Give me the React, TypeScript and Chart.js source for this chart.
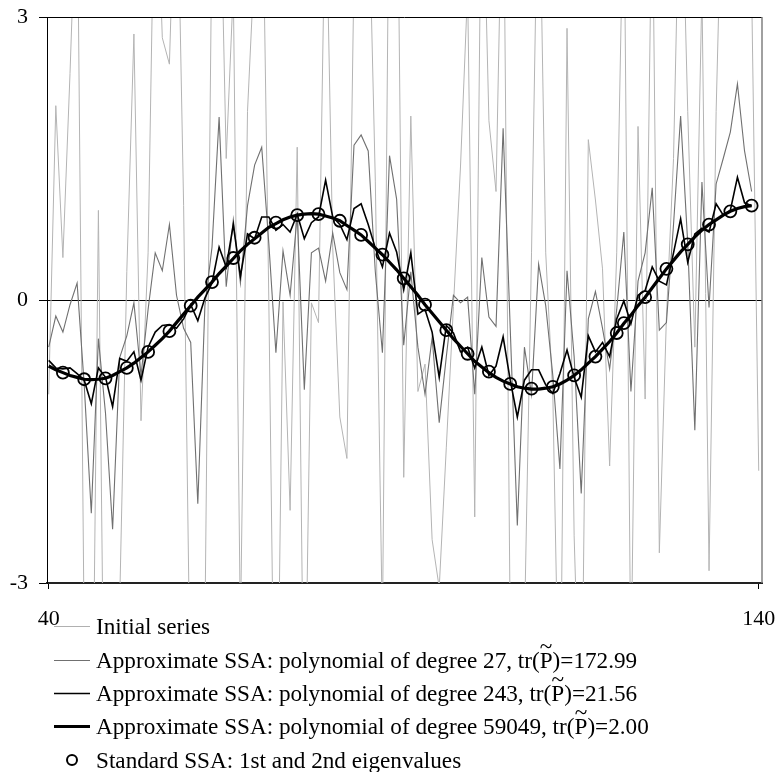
import React, { useEffect, useRef } from 'react';
import { Chart, registerables } from 'chart.js';
Chart.register(...registerables);

const FIRST_X = 40;
const xTickValues = [40, 140];
const yTickValues = [-3, 0, 3];

// Initial series: x = 40..140
const initialSeries = [
  -1.0, 2.06, 0.45, 2.4, 4.6, -3.6, -6, 0.95, -6, -5,
  -3.2, 0.3, 2.82, -1.28, 0.5, 5, 2.78, 2.5, 5, 1.0,
  -4.5, -5, -3.5, 4, 5, 1.5, 3.3, -3.5, 2.0, 3.6,
  5, 0, -6, -0.02, -2.23, 1.62, -5, -0.03, -0.24, 4.5,
  0.56, -1.24, -1.68, 3.5, 5, 4.5, 1.26, -3.5, 5, 5.5,
  -1.88, 1.95, -0.97, -0.68, -2.54, -3.05, -1.56, -0.07, 1.42, 3.3,
  -2.3, 5, 1.9, 1.15, 5, -3.5, -5, -3.5, 0.5, 5,
  0.5, -1, -5, 2.88, -2.5, -5, 1.7, 1.06, 0.33, -1.76,
  0.5, 4.5, -4, 1.84, -1.05, 4.5, -2.68, -0.18, 1.5, 5,
  2.0, -0.5, 3.3, -2.87, 2.0, 5, 4, 5, 4.5, 3.3,
  -1.81,
];

// Approximate SSA, polynomial of degree 27: x = 40..139
const degree27 = [
  -0.5, -0.17, -0.34, -0.05, 0.18, -0.9, -2.26, -0.41, -1.2, -2.43,
  -0.61, -0.38, -0.03, -0.8, -0.1, 0.5, 0.31, 0.8, 0.05, -0.3,
  -0.45, -2.16, -0.06, 0.56, 1.94, 0.14, 0.85, 0.18, 1.0, 1.43,
  1.62, 0.6, -0.56, 0.52, 0.05, 0.9, -0.95, 0.5, 0.55, 0.2,
  0.71, 0.29, 0.11, 1.64, 1.75, 1.58, 0.3, -0.56, 1.53, 1.07,
  -0.48, 0.3, -0.5, -1.0, -0.4, -1.3, -0.6, 0.05, -0.03, 0.03,
  -1.0, 0.45, -0.18, -0.28, 1.82, -0.3, -2.39, -0.5, -1.0, 0.38,
  -0.06, -0.8, -1.79, 0.31, -0.6, -2.05, -0.2, 0.09, -0.3, -0.73,
  -0.1, 0.72, -0.97, 0.2, 0.5, 1.19, -0.32, -0.24, 0.8, 1.95,
  0.6, -1.38, 1.25, -0.08, 1.23, 1.5, 1.78, 2.29, 1.58, 1.15,
];

// Approximate SSA, polynomial of degree 243: x = 40..139
const degree243 = [
  -0.64, -0.72, -0.73, -0.72, -0.78, -0.85, -1.1, -0.72, -0.82, -1.13,
  -0.62, -0.65, -0.55, -0.85, -0.5, -0.34, -0.27, -0.26, -0.3, -0.2,
  -0.05, -0.22, 0.02, 0.18, 0.56, 0.35, 0.8, 0.25, 0.7, 0.65,
  0.88, 0.88, 0.74, 0.8, 0.72, 0.91, 0.65, 0.82, 0.88, 1.27,
  0.88, 0.8, 0.64, 0.97, 1.02, 0.8, 0.55, 0.35, 0.71, 0.51,
  0.11, 0.5, -0.15, -0.1, -0.34, -0.82, -0.27, -0.35, -0.55, -0.5,
  -0.72, -0.5, -0.8, -0.7, -0.39, -0.85, -1.24, -0.85, -0.74, -0.74,
  -0.9, -0.99, -0.78, -0.53, -0.82, -1.03, -0.38, -0.55, -0.45, -0.6,
  -0.2, -0.01, -0.25, 0.05, 0.1, 0.35, 0.2, 0.16, 0.5, 0.86,
  0.4, 0.7, 0.76, 0.72, 1.02, 0.9, 0.95, 1.3, 1.03, 1.0,
];

// Approximate SSA, polynomial of degree 59049: x = 40..139
const degree59049 = [
  -0.7, -0.74, -0.77, -0.8, -0.82, -0.84, -0.845, -0.84, -0.83, -0.8,
  -0.76, -0.72, -0.67, -0.61, -0.55, -0.48, -0.41, -0.33, -0.24, -0.15,
  -0.06, 0.03, 0.11, 0.19, 0.28, 0.36, 0.44, 0.52, 0.59, 0.65,
  0.71, 0.77, 0.81, 0.85, 0.88, 0.9, 0.91, 0.915, 0.91, 0.89,
  0.87, 0.84, 0.79, 0.74, 0.69, 0.62, 0.55, 0.48, 0.4, 0.32,
  0.23, 0.14, 0.05, -0.05, -0.14, -0.23, -0.32, -0.41, -0.49, -0.57,
  -0.65, -0.71, -0.77, -0.82, -0.86, -0.89, -0.92, -0.935, -0.945, -0.945,
  -0.935, -0.92, -0.89, -0.85, -0.8, -0.74, -0.67, -0.6, -0.52, -0.44,
  -0.35, -0.25, -0.16, -0.06, 0.03, 0.13, 0.23, 0.33, 0.42, 0.51,
  0.59, 0.67, 0.74, 0.8, 0.85, 0.9, 0.94, 0.97, 0.99, 1.0,
];

// Standard SSA (1st and 2nd eigenvalues)
const standardX = [
  42, 45, 48, 51, 54, 57, 60, 63, 66, 69, 72, 75, 78, 81, 84, 87, 90,
  93, 96, 99, 102, 105, 108, 111, 114, 117, 120, 121, 124, 127, 130, 133, 136, 139,
];
const standardY = [
  -0.77, -0.84, -0.83, -0.72, -0.55, -0.33, -0.06, 0.19, 0.445, 0.66, 0.82, 0.9, 0.91, 0.84, 0.69, 0.48, 0.23,
  -0.05, -0.32, -0.57, -0.76, -0.89, -0.94, -0.92, -0.8, -0.6, -0.35, -0.245, 0.03, 0.33, 0.59, 0.8, 0.94, 1.0,
];

const legendDegrees = ['27', '243', '59049'];
const legendTraces = ['172.99', '21.56', '2.00'];

const FONT_FAMILY = "'Liberation Serif', 'Times New Roman', serif";

const toPoints = (arr: number[]) => arr.map((y, i) => ({ x: FIRST_X + i, y }));

const framePlugin = {
  id: 'frame',
  beforeDatasetsDraw(chart: any) {
    const { ctx, chartArea } = chart;
    const y0 = chart.scales.y.getPixelForValue(0);
    ctx.save();
    ctx.strokeStyle = '#000';
    ctx.lineWidth = 1;
    ctx.beginPath();
    ctx.moveTo(chartArea.left, Math.round(y0) + 0.5);
    ctx.lineTo(chartArea.right, Math.round(y0) + 0.5);
    ctx.stroke();
    ctx.restore();
  },
  afterDatasetsDraw(chart: any) {
    const { ctx, chartArea } = chart;
    ctx.save();
    ctx.strokeStyle = '#000';
    ctx.lineWidth = 1;
    ctx.beginPath();
    ctx.moveTo(chartArea.left, chartArea.top + 0.5);
    ctx.lineTo(chartArea.right, chartArea.top + 0.5);
    ctx.stroke();
    ctx.strokeStyle = '#808080';
    ctx.lineWidth = 1.5;
    ctx.beginPath();
    ctx.moveTo(chartArea.right, chartArea.top);
    ctx.lineTo(chartArea.right, chartArea.bottom);
    ctx.stroke();
    ctx.restore();
  },
  afterDraw(chart: any) {
    const { ctx } = chart;
    ctx.save();
    ctx.font = `23.2px ${FONT_FAMILY}`;
    ctx.fillStyle = '#000';
    ctx.textBaseline = 'alphabetic';
    const lineX0 = 54;
    const lineX1 = 90;
    const textX = 96;
    const rowY = [626, 660, 693, 726, 760];
    const styles = [
      { color: '#b0b0b0', width: 1 },
      { color: '#707070', width: 1.2 },
      { color: '#000', width: 1.6 },
      { color: '#000', width: 3.2 },
    ];
    styles.forEach((s, i) => {
      ctx.strokeStyle = s.color;
      ctx.lineWidth = s.width;
      ctx.beginPath();
      ctx.moveTo(lineX0, rowY[i] + 0.5);
      ctx.lineTo(lineX1, rowY[i] + 0.5);
      ctx.stroke();
    });
    ctx.strokeStyle = '#000';
    ctx.lineWidth = 2;
    ctx.beginPath();
    ctx.arc(72, rowY[4], 5, 0, Math.PI * 2);
    ctx.stroke();
    const base = (y: number) => y + 8;
    ctx.fillText('Initial series', textX, base(rowY[0]));
    legendDegrees.forEach((deg, i) => {
      const y = base(rowY[i + 1]);
      const pre = `Approximate SSA: polynomial of degree ${deg}, tr(`;
      const wPre = ctx.measureText(pre).width;
      const wP = ctx.measureText('P').width;
      ctx.fillText(pre, textX, y);
      ctx.fillText('P', textX + wPre, y);
      ctx.fillText(`)=${legendTraces[i]}`, textX + wPre + wP, y);
      ctx.textAlign = 'center';
      ctx.fillText('~', textX + wPre + wP / 2, y - 14);
      ctx.textAlign = 'left';
    });
    ctx.fillText('Standard SSA: 1st and 2nd eigenvalues', textX, base(rowY[4]));
    ctx.restore();
  },
};

export default function App() {
  const ref = useRef<HTMLCanvasElement>(null);
  useEffect(() => {
    if (!ref.current) return;
    const tickFont = { family: FONT_FAMILY, size: 22 };
    const chart = new Chart(ref.current, {
      type: 'line',
      data: {
        datasets: [
          {
            label: 'Standard SSA: 1st and 2nd eigenvalues',
            data: standardX.map((x, i) => ({ x, y: standardY[i] })),
            showLine: false,
            pointRadius: 6,
            pointBorderWidth: 1.8,
            pointBorderColor: '#000',
            pointBackgroundColor: 'rgba(0,0,0,0)',
            borderColor: '#000',
          },
          {
            label: 'degree 59049',
            data: toPoints(degree59049),
            borderColor: '#000',
            borderWidth: 3.2,
            pointRadius: 0,
          },
          {
            label: 'degree 243',
            data: toPoints(degree243),
            borderColor: '#000',
            borderWidth: 1.6,
            pointRadius: 0,
          },
          {
            label: 'degree 27',
            data: toPoints(degree27),
            borderColor: '#707070',
            borderWidth: 1.1,
            pointRadius: 0,
          },
          {
            label: 'Initial series',
            data: toPoints(initialSeries),
            borderColor: '#b4b4b4',
            borderWidth: 1,
            pointRadius: 0,
          },
        ],
      },
      options: {
        animation: false,
        responsive: false,
        devicePixelRatio: 1,
        layout: { padding: { left: 0, top: 17, right: 16, bottom: 0 } },
        plugins: { legend: { display: false }, tooltip: { enabled: false } },
        elements: { line: { tension: 0 } },
        scales: {
          x: {
            type: 'linear',
            min: 39.76,
            max: 140.46,
            afterBuildTicks: (s: any) => {
              s.ticks = xTickValues.map((v) => ({ value: v }));
            },
            afterFit: (s: any) => {
              s.height = 189;
              s.paddingLeft = 0;
              s.paddingRight = 0;
            },
            grid: { drawOnChartArea: false, tickLength: 6, tickColor: '#000', lineWidth: 1 },
            border: { display: true, color: '#222', width: 2 },
            ticks: { padding: 17, color: '#000', font: tickFont, maxRotation: 0, autoSkip: false },
          },
          y: {
            type: 'linear',
            min: -3,
            max: 3,
            afterBuildTicks: (s: any) => {
              s.ticks = yTickValues.map((v) => ({ value: v }));
            },
            afterFit: (s: any) => {
              s.width = 47;
              s.paddingTop = 0;
              s.paddingBottom = 0;
            },
            grid: { drawOnChartArea: false, tickLength: 8, tickColor: '#000', lineWidth: 1 },
            border: { display: true, color: '#000', width: 1 },
            ticks: { padding: 11, color: '#000', font: tickFont },
          },
        },
      },
      plugins: [framePlugin],
    } as any);
    return () => chart.destroy();
  }, []);
  return (
    <div style={{ position: 'absolute', left: 0, top: 0, width: 778, height: 772, background: '#fff' }}>
      <canvas ref={ref} width={778} height={772} style={{ display: 'block', width: 778, height: 772 }} />
    </div>
  );
}
